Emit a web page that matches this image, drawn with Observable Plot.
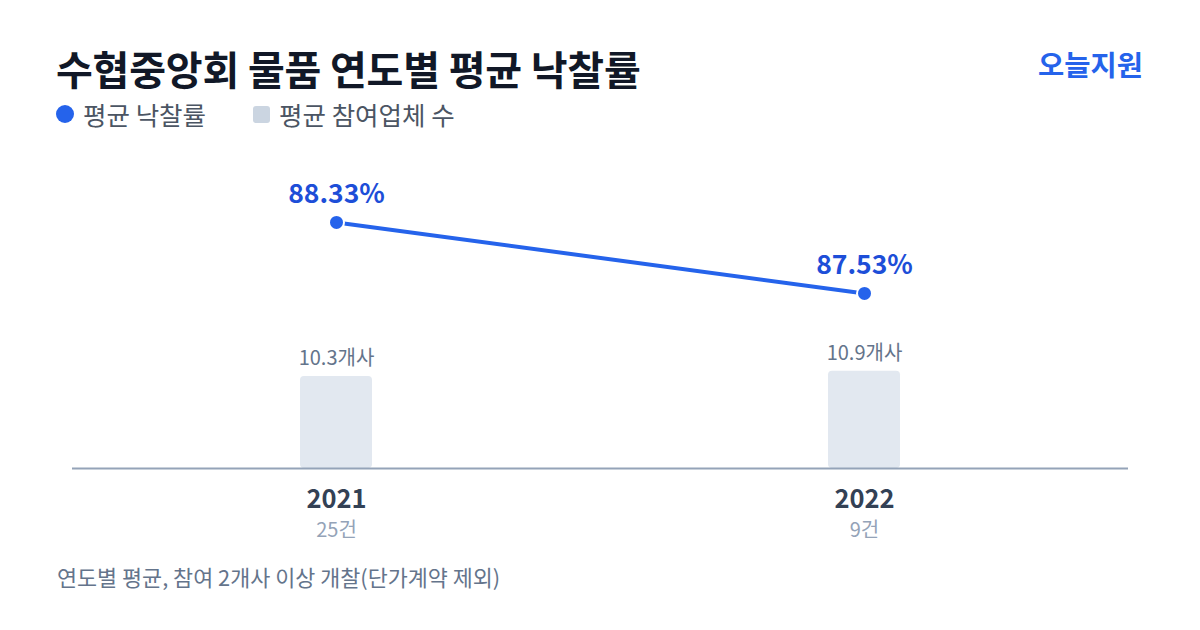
<!DOCTYPE html>
<html><head><meta charset="utf-8">
<script src="https://cdn.jsdelivr.net/npm/d3@7"></script>
<script src="https://cdn.jsdelivr.net/npm/@observablehq/plot@0.6"></script>
<style>
body{margin:0;background:#fff;font-family:"Noto Sans CJK KR","Noto Sans",sans-serif;}
#wrap{position:relative;width:1200px;height:630px;overflow:hidden;background:#fff;}
#title{position:absolute;left:56px;top:42px;font-size:40px;font-weight:700;color:#111827;letter-spacing:-0.2px;line-height:52px;height:52px;white-space:nowrap;}
#brand{position:absolute;right:57px;top:46px;font-size:28.5px;font-weight:700;color:#2563eb;line-height:36px;}
#legend{position:absolute;left:56px;top:98px;font-size:25.5px;color:#4b5563;display:flex;align-items:center;line-height:32px;white-space:nowrap;}
.sw{display:inline-block;margin-right:9px;}
#footer{position:absolute;left:57px;top:562px;font-size:21.8px;color:#64748b;white-space:nowrap;line-height:30px;}
.plot{position:absolute;left:0;top:140px;}
</style></head>
<body>
<div id="wrap">
  <div id="title">수협중앙회 물품 연도별 평균 낙찰률</div>
  <div id="brand">오늘지원</div>
  <div id="legend">
    <span class="sw" style="width:18px;height:18px;border-radius:50%;background:#2563eb;"></span><span>평균 낙찰률</span>
    <span class="sw" style="width:17px;height:17px;border-radius:3px;background:#cbd5e1;margin-left:47px;"></span><span>평균 참여업체 수</span>
  </div>
  <div id="barsPlot" class="plot"></div>
  <div id="linePlot" class="plot"></div>
  <div id="footer">연도별 평균, 참여 2개사 이상 개찰(단가계약 제외)</div>
</div>
<script>
const years = ["2021", "2022"];
const rates = [88.33, 87.53];
const vendors = [10.3, 10.9];
const counts = [25, 9];

const rows = years.map((y, i) => ({year: y, rate: rates[i], vendors: vendors[i], count: counts[i]}));
const FONT = "Noto Sans CJK KR";

const W = 1200, H = 420;
const barsPlot = Plot.plot({
  width: W, height: H,
  marginLeft: 72, marginRight: 72, marginTop: 0, marginBottom: 92,
  style: {background: "transparent", overflow: "visible"},
  x: {type: "band", domain: years, paddingInner: 0.8636, paddingOuter: 0.4318, axis: null},
  y: {domain: [0, 10], range: [328, 238.7], axis: null},
  marks: [
    Plot.barY(rows, {x: "year", y: "vendors", fill: "#e2e8f0", rx: 4}),
    Plot.ruleY([0], {stroke: "#94a3b8", strokeWidth: 2}),
    Plot.text(rows, {x: "year", y: "vendors", text: d => `${d.vendors}개사`, dy: -18, fill: "#64748b", fontSize: 20, fontFamily: FONT}),
    Plot.text(rows, {x: "year", y: () => 0, text: "year", dy: 31, fill: "#334155", fontSize: 25.5, fontWeight: 700, fontFamily: FONT}),
    Plot.text(rows, {x: "year", y: () => 0, text: d => `${d.count}건`, dy: 62, fill: "#94a3b8", fontSize: 20, fontFamily: FONT})
  ]
});
document.getElementById("barsPlot").append(barsPlot);

const linePlot = Plot.plot({
  width: W, height: H,
  marginLeft: 72, marginRight: 72, marginTop: 0, marginBottom: 92,
  style: {background: "transparent", overflow: "visible"},
  x: {type: "point", domain: years, padding: 0.5, axis: null},
  y: {domain: [87, 89], range: [200, 22.5], axis: null},
  marks: [
    Plot.line(rows, {x: "year", y: "rate", stroke: "#2563eb", strokeWidth: 4}),
    Plot.dot(rows, {x: "year", y: "rate", r: 7.5, fill: "#2563eb", stroke: "#fff", strokeWidth: 2}),
    Plot.text(rows, {x: "year", y: "rate", text: d => `${d.rate.toFixed(2)}%`, dy: -28, fill: "#1d4ed8", fontSize: 26.5, fontWeight: 700, fontFamily: FONT})
  ]
});
document.getElementById("linePlot").append(linePlot);
</script>
</body></html>
